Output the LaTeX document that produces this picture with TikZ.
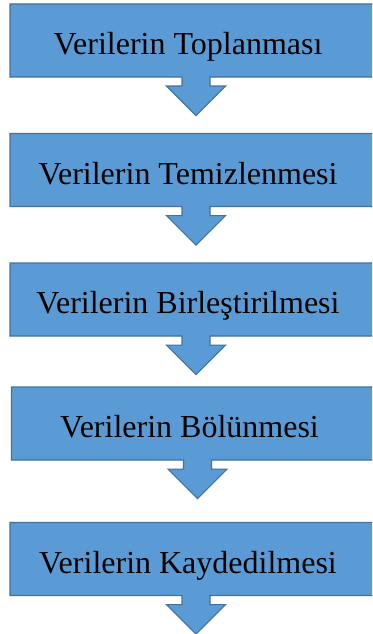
\documentclass[tikz,border=0pt]{standalone}
\usepackage{fontspec}
\setmainfont{Liberation Serif}
\usepackage{tikz}
\usetikzlibrary{shapes.arrows}

\definecolor{stepfill}{HTML}{5B9BD5}
\definecolor{stepline}{HTML}{41719C}

\begin{document}
\begin{tikzpicture}[
        x=1pt, y=-1pt,
        stepbox/.style={
            arrow box,
            draw=stepline,
            fill=stepfill,
            line width=1.2pt,
            minimum width=372pt,
            minimum height=73pt,
            inner sep=0pt,
            text height=28pt,
            text depth=0pt,
            arrow box arrows={south:38pt},
            arrow box shaft width=28pt,
            arrow box head extend=15.5pt,
            arrow box tip angle=90,
            font=\fontsize{32}{36}\selectfont
        }
    ]
    \useasboundingbox (0,0) rectangle (372,634);
    \clip (0,0) rectangle (372,634);

    % Steps, top to bottom
    \node[stepbox] (collect) at (196,40.5) {\hspace*{-16pt}Verilerin Toplanması};
    \node[stepbox] (clean) at (196,170) {\hspace*{-16pt}Verilerin Temizlenmesi};
    \node[stepbox] (merge) at (196,299.5) {\hspace*{-16pt}Verilerin Birleştirilmesi};
    \node[stepbox] (split) at (197.5,423.5) {\hspace*{-16pt}Verilerin Bölünmesi};
    \node[stepbox] (save) at (196,559) {\hspace*{-16pt}Verilerin Kaydedilmesi};

\end{tikzpicture}
\end{document}
